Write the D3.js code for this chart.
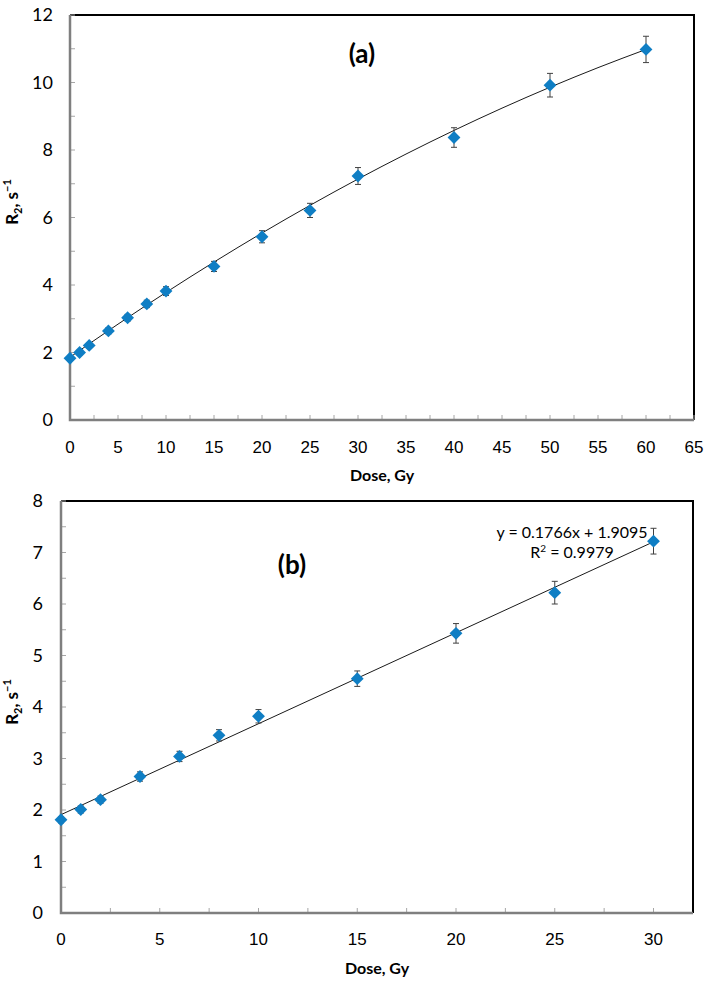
<!DOCTYPE html>
<html>
<head>
<meta charset="utf-8">
<script src="https://cdn.jsdelivr.net/npm/d3@7"></script>
<style>
  body { margin: 0; background: #fff; }
  svg { display: block; }
</style>
</head>
<body>
<div id="chart"></div>
<script>
// panel (a) data
var doseA = [0, 1, 2, 4, 6, 8, 10, 15, 20, 25, 30, 40, 50, 60];
var r2A = [1.83, 2.0, 2.21, 2.64, 3.03, 3.44, 3.82, 4.55, 5.43, 6.21, 7.23, 8.37, 9.92, 10.98];
var errA = [0.06, 0.07, 0.07, 0.09, 0.1, 0.11, 0.13, 0.15, 0.18, 0.21, 0.25, 0.29, 0.35, 0.39];
// trendline (a)
var fitXA = [0, 5, 10, 15, 20, 25, 30, 35, 40, 45, 50, 55, 60];
var fitYA = [1.86, 2.84, 3.78, 4.68, 5.54, 6.36, 7.14, 7.88, 8.58, 9.24, 9.86, 10.44, 10.98];
var xTicksA = [0, 5, 10, 15, 20, 25, 30, 35, 40, 45, 50, 55, 60, 65];
var yTicksA = [0, 2, 4, 6, 8, 10, 12];

// panel (b) data
var doseB = [0, 1, 2, 4, 6, 8, 10, 15, 20, 25, 30];
var r2B = [1.81, 2.01, 2.2, 2.65, 3.04, 3.45, 3.82, 4.55, 5.43, 6.22, 7.22];
var errB = [0.06, 0.07, 0.07, 0.09, 0.1, 0.11, 0.13, 0.15, 0.19, 0.22, 0.25];
var slopeB = 0.1766, interceptB = 1.9095;
var xTicksB = [0, 5, 10, 15, 20, 25, 30];
var yTicksB = [0, 1, 2, 3, 4, 5, 6, 7, 8];

var W = 711, H = 982;
var blue = "#0f7ec4";
var sans = "Lato, 'Open Sans', sans-serif";

var svg = d3.select("#chart").append("svg")
  .attr("width", W)
  .attr("height", H);

function panel(opt) {
  var x = d3.scaleLinear().domain(opt.xDomain).range([opt.left, opt.right]);
  var y = d3.scaleLinear().domain(opt.yDomain).range([opt.bottom, opt.top]);
  var g = svg.append("g");

  // plot border: top + right black
  g.append("path")
    .attr("d", `M${opt.left},${opt.top}H${opt.right}V${opt.bottom}`)
    .attr("fill", "none")
    .attr("stroke", "#000")
    .attr("stroke-width", 2);

  // minor ticks y (inside)
  g.selectAll(".ymin").data(opt.yMinor).join("line")
    .attr("x1", opt.left).attr("x2", opt.left + 5)
    .attr("y1", d => y(d)).attr("y2", d => y(d))
    .attr("stroke", "#a6a6a6").attr("stroke-width", 1);
  // ticks x (inside, pointing up)
  g.selectAll(".xmin").data(opt.xMinor).join("line")
    .attr("x1", d => x(d)).attr("x2", d => x(d))
    .attr("y1", opt.bottom).attr("y2", opt.bottom - 5)
    .attr("stroke", "#a6a6a6").attr("stroke-width", 1);

  // axis lines, gray
  g.append("path")
    .attr("d", `M${opt.left},${opt.top}V${opt.bottom}H${opt.right}`)
    .attr("fill", "none")
    .attr("stroke", "#7f7f7f")
    .attr("stroke-width", 2.5);

  // tick labels
  g.selectAll(".ylab").data(opt.yTicks).join("text")
    .attr("x", opt.yLabelX)
    .attr("y", d => y(d))
    .attr("dy", "0.35em")
    .attr("text-anchor", "end")
    .style("font-family", sans)
    .style("font-size", "18px")
    .style("fill", "#000")
    .text(d => d);
  g.selectAll(".xlab").data(opt.xTicks).join("text")
    .attr("x", d => x(d))
    .attr("y", opt.xLabelY)
    .attr("dy", "0.35em")
    .attr("text-anchor", "middle")
    .style("font-family", "'Liberation Sans', Arial, sans-serif")
    .style("font-size", "17px")
    .style("fill", "#000")
    .text(d => d);

  // axis titles
  g.append("text")
    .attr("x", (opt.left + opt.right) / 2)
    .attr("y", opt.xTitleY)
    .attr("dy", "0.35em")
    .attr("text-anchor", "middle")
    .style("font-family", sans)
    .style("font-weight", "bold")
    .style("font-size", "16px")
    .text("Dose, Gy");

  var yt = g.append("text")
    .attr("transform", `translate(${opt.yTitleX},${opt.yTitleY}) rotate(-90)`)
    .attr("text-anchor", "middle")
    .style("font-family", sans)
    .style("font-weight", "bold")
    .style("font-size", "17px");
  yt.append("tspan").text("R");
  yt.append("tspan").attr("dy", 4).style("font-size", "11px").text("2");
  yt.append("tspan").attr("dy", -4).text(", s");
  yt.append("tspan").attr("dy", -7).style("font-size", "11px").text("\u22121");

  // panel label
  g.append("text")
    .attr("x", opt.tagX).attr("y", opt.tagY)
    .attr("dy", "0.35em")
    .attr("text-anchor", "middle")
    .style("font-family", sans)
    .style("font-weight", "bold")
    .style("font-size", "26px")
    .text(opt.tag);

  // trendline
  g.append("path")
    .datum(opt.fit)
    .attr("d", d3.line().x(d => x(d[0])).y(d => y(d[1])).curve(d3.curveMonotoneX))
    .attr("fill", "none")
    .attr("stroke", "#1a1a1a")
    .attr("stroke-width", 1);

  // error bars
  var pts = opt.xs.map((v, i) => ({ x: v, y: opt.ys[i], e: opt.es[i] }));
  var eb = g.selectAll(".eb").data(pts).join("g").attr("stroke", "#404040").attr("stroke-width", 1);
  eb.append("line")
    .attr("x1", d => x(d.x)).attr("x2", d => x(d.x))
    .attr("y1", d => y(d.y - d.e)).attr("y2", d => y(d.y + d.e));
  eb.append("line")
    .attr("x1", d => x(d.x) - 3).attr("x2", d => x(d.x) + 3)
    .attr("y1", d => y(d.y - d.e)).attr("y2", d => y(d.y - d.e));
  eb.append("line")
    .attr("x1", d => x(d.x) - 3).attr("x2", d => x(d.x) + 3)
    .attr("y1", d => y(d.y + d.e)).attr("y2", d => y(d.y + d.e));

  // diamonds
  g.selectAll(".pt").data(pts).join("path")
    .attr("d", d3.symbol().type(d3.symbolDiamond2).size(105))
    .attr("transform", d => `translate(${x(d.x)},${y(d.y)})`)
    .attr("fill", blue);

  return { x: x, y: y, g: g };
}

panel({
  xDomain: [0, 65], yDomain: [0, 12],
  left: 70, right: 694, top: 15, bottom: 420,
  xTicks: xTicksA, yTicks: yTicksA,
  xMinor: d3.range(0, 65.1, 2.5), yMinor: d3.range(0, 12.1, 1),
  yLabelX: 53, xLabelY: 447, xTitleY: 475,
  yTitleX: 18, yTitleY: 202,
  tag: "(a)", tagX: 362, tagY: 54,
  fit: fitXA.map((v, i) => [v, fitYA[i]]),
  xs: doseA, ys: r2A, es: errA
});

var pb = panel({
  xDomain: [0, 32], yDomain: [0, 8],
  left: 61, right: 693, top: 501, bottom: 913,
  xTicks: xTicksB, yTicks: yTicksB,
  xMinor: d3.range(0, 32.1, 2.5), yMinor: d3.range(0, 8.01, 0.5),
  yLabelX: 43, xLabelY: 939, xTitleY: 968,
  yTitleX: 18, yTitleY: 702,
  tag: "(b)", tagX: 292, tagY: 565,
  fit: [[0, interceptB], [30, interceptB + slopeB * 30]],
  xs: doseB, ys: r2B, es: errB
});

// regression equation (b)
pb.g.append("text")
  .attr("x", 572).attr("y", 538)
  .attr("text-anchor", "middle")
  .style("font-family", sans)
  .style("font-size", "16px")
  .text(`y = ${slopeB}x + ${interceptB}`);
var r2t = pb.g.append("text")
  .attr("x", 572).attr("y", 558)
  .attr("text-anchor", "middle")
  .style("font-family", sans)
  .style("font-size", "16px");
r2t.append("tspan").text("R");
r2t.append("tspan").attr("dy", -6).style("font-size", "10px").text("2");
r2t.append("tspan").attr("dy", 6).text(" = 0.9979");
</script>
</body>
</html>
